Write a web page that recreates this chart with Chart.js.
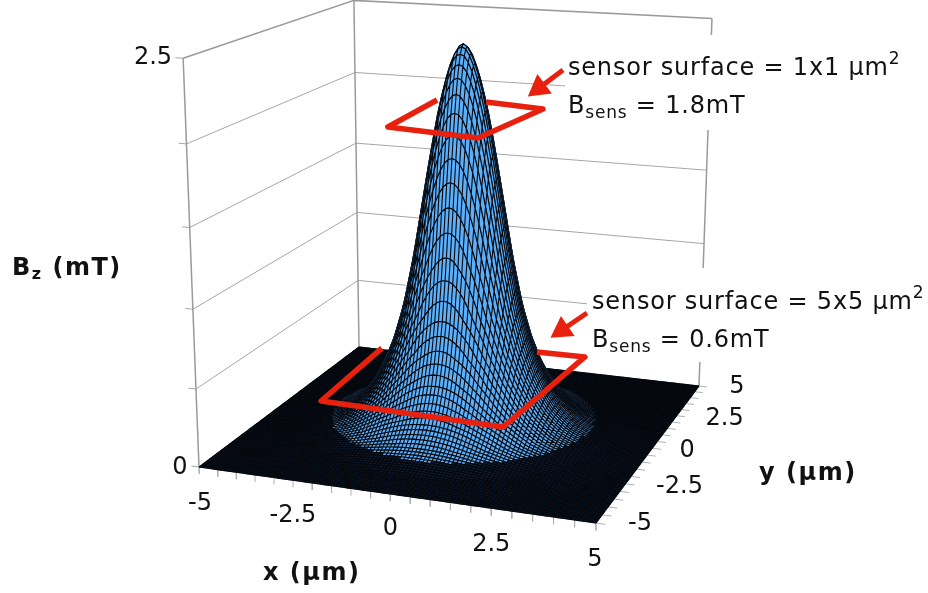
<!DOCTYPE html>
<html>
<head>
<meta charset="utf-8">
<style>
  html, body { margin: 0; padding: 0; background: #fff; }
  canvas { display: block; }
</style>
<script src="https://cdn.jsdelivr.net/npm/chart.js@4"></script>
</head>
<body>
<canvas id="chart" width="928" height="593"></canvas>
<script>
// values
const xTicks = ['-5', '-2.5', '0', '2.5', '5'];
const yTicks = ['5', '2.5', '0', '-2.5', '-5'];
const zTicks = ['2.5', '0'];
const gridSteps = 100;
const zGrid = [0, 0.5, 1, 1.5, 2, 2.5];
const tickValues = [-5, -4.5, -4, -3.5, -3, -2.5, -2, -1.5, -1, -0.5, 0, 0.5, 1, 1.5, 2, 2.5, 3, 3.5, 4, 4.5, 5];
// Bz against distance from the centre. The mesh heights are linearly
// interpolated between these read values because the surface has far more
// nodes than can be read one at a time.
const radii = [0, 0.125, 0.25, 0.375, 0.5, 0.625, 0.75, 0.875, 1, 1.25, 1.5, 1.75, 2, 2.25, 2.5, 2.75, 3, 3.25, 3.5, 4, 4.5, 5, 8];
const bzProfile = [2.46, 2.44, 2.38, 2.29, 2.17, 2.03, 1.86, 1.68, 1.49, 1.11, 0.80, 0.58, 0.42, 0.30, 0.21, 0.15, 0.10, 0.07, 0.05, 0.02, 0.01, 0, 0];
const floorBand = 0.06;
const smallSensor = [[-2.17, 3.94, 1.9], [-2.07, 0.17, 1.9], [0.5, -0.32, 1.9], [0.88, 3.71, 1.9], [-0.84, 4.12, 1.9]];
const largeSensor = [[-2.94, 1.73, 0.3], [-2.76, -2.7, 0.3], [2.07, -2.91, 0.3], [2.39, 2.86, 0.3], [1.07, 2.83, 0.3]];

// camera: floor corners and wall tops as they sit in the picture
const floorAnchors = [[-5, -5, 199, 467], [5, -5, 596, 523], [5, 5, 699, 386], [-5, 5, 359, 347]];
const topAnchors = [[-5, -5, 183, 57], [-5, 5, 354, 0], [5, 5, 712, 20]];
const topZ = 2.5;

function solveLinear(rows, rhs) {
  const n = rows[0].length;
  const m = [];
  for (let i = 0; i < n; i++) {
    m.push([]);
    for (let j = 0; j < n; j++) {
      m[i].push(rows.reduce((s, r) => s + r[i] * r[j], 0));
    }
    m[i].push(rows.reduce((s, r, k) => s + r[i] * rhs[k], 0));
  }
  for (let c = 0; c < n; c++) {
    let best = c;
    for (let r = c + 1; r < n; r++) {
      if (Math.abs(m[r][c]) > Math.abs(m[best][c])) best = r;
    }
    [m[c], m[best]] = [m[best], m[c]];
    for (let r = 0; r < n; r++) {
      if (r === c) continue;
      const f = m[r][c] / m[c][c];
      for (let k = c; k <= n; k++) m[r][k] -= f * m[c][k];
    }
  }
  return m.map((row, i) => row[n] / row[i]);
}

function solveCamera() {
  const rows = [];
  const rhs = [];
  floorAnchors.forEach(([x, y, u, v]) => {
    rows.push([x, y, 1, 0, 0, 0, -u * x, -u * y]);
    rhs.push(u);
    rows.push([0, 0, 0, x, y, 1, -v * x, -v * y]);
    rhs.push(v);
  });
  const [a, b, d, e, f, h, g, k] = solveLinear(rows, rhs);
  const zRows = [];
  const zRhs = [];
  topAnchors.forEach(([x, y, u, v]) => {
    const w = g * x + k * y + 1;
    zRows.push([topZ, 0, -u * topZ]);
    zRhs.push(u * w - a * x - b * y - d);
    zRows.push([0, topZ, -v * topZ]);
    zRhs.push(v * w - e * x - f * y - h);
  });
  const [c, j, m] = solveLinear(zRows, zRhs);
  return [a, b, c, d, e, f, j, h, g, k, m];
}

const cam = solveCamera();

function project(x, y, z) {
  const w = cam[8] * x + cam[9] * y + cam[10] * z + 1;
  return {
    x: (cam[0] * x + cam[1] * y + cam[2] * z + cam[3]) / w,
    y: (cam[4] * x + cam[5] * y + cam[6] * z + cam[7]) / w
  };
}

function bzAt(x, y) {
  const r = Math.hypot(x, y);
  let k = 0;
  while (k < radii.length - 2 && radii[k + 1] < r) k++;
  const t = (r - radii[k]) / (radii[k + 1] - radii[k]);
  return bzProfile[k] + t * (bzProfile[k + 1] - bzProfile[k]);
}

const gap = { x: null, y: null };
const nodes = [];
for (let i = 0; i <= gridSteps; i++) {
  nodes.push(-5 + 10 * i / gridSteps);
}

function lineSet(points, color, width) {
  return { data: points, borderColor: color, borderWidth: width, pointRadius: 0, fill: false, tension: 0 };
}

function wallLines() {
  const thin = [];
  const thick = [];
  zGrid.forEach((z) => {
    const target = z === 2.5 ? thick : thin;
    target.push(project(-5, -5, z), project(-5, 5, z), project(5, 5, z), gap);
    thin.push(project(-5.2, -5, z), project(-5, -5, z), gap);
  });
  [[-5, -5], [-5, 5], [5, 5]].forEach(([x, y]) => {
    thick.push(project(x, y, 0), project(x, y, 2.5), gap);
  });
  return [lineSet(thin, '#a6a6a6', 1), lineSet(thick, '#999999', 1.5)];
}

function floorTicks() {
  const pts = [];
  tickValues.forEach((v) => {
    pts.push(project(v, -5, 0), project(v, -5, -0.045), gap);
    pts.push(project(5, v, 0), project(5.22, v, 0), gap);
  });
  pts.push(project(-5, -5, 0), project(5, -5, 0), project(5, 5, 0), gap);
  return lineSet(pts, '#b0b0b0', 1);
}

function stripFill(j, from, to, color) {
  const pts = [];
  for (let i = from; i <= to; i++) {
    pts.push(project(nodes[i], nodes[j + 1], bzAt(nodes[i], nodes[j + 1])));
  }
  for (let i = to; i >= from; i--) {
    pts.push(project(nodes[i], nodes[j], bzAt(nodes[i], nodes[j])));
  }
  pts.push(pts[0]);
  return { data: pts, fill: 'shape', backgroundColor: color, borderColor: color, borderWidth: 0.5, pointRadius: 0, tension: 0 };
}

function stripLines(j) {
  const pts = [];
  nodes.forEach((x) => {
    pts.push(project(x, nodes[j + 1], bzAt(x, nodes[j + 1])));
  });
  pts.push(gap);
  nodes.forEach((x) => {
    pts.push(project(x, nodes[j], bzAt(x, nodes[j])));
  });
  pts.push(gap);
  nodes.forEach((x) => {
    pts.push(project(x, nodes[j + 1], bzAt(x, nodes[j + 1])), project(x, nodes[j], bzAt(x, nodes[j])), gap);
  });
  return lineSet(pts, '#05070d', 1.1);
}

function surface() {
  const sets = [];
  // back row first, front row last, so nearer rows hide what is behind them
  for (let j = gridSteps - 1; j >= 0; j--) {
    let start = 0;
    const band = (i) => bzAt((nodes[i] + nodes[i + 1]) / 2, (nodes[j] + nodes[j + 1]) / 2) >= floorBand;
    for (let i = 1; i <= gridSteps; i++) {
      if (i === gridSteps || band(i) !== band(start)) {
        sets.push(stripFill(j, start, i, band(start) ? '#5cb0fa' : '#0f1d2e'));
        start = i;
      }
    }
    sets.push(stripLines(j));
  }
  return sets;
}

function whiteBox(x0, y0, x1, y1) {
  const pts = [{ x: x0, y: y0 }, { x: x1, y: y0 }, { x: x1, y: y1 }, { x: x0, y: y1 }, { x: x0, y: y0 }];
  return { data: pts, fill: 'shape', backgroundColor: '#fff', borderColor: '#fff', borderWidth: 0, pointRadius: 0, tension: 0 };
}

function sensorLine(corners, width) {
  const set = lineSet(corners.map(([x, y, z]) => project(x, y, z)), '#e8210f', width);
  set.borderJoinStyle = 'round';
  set.borderCapStyle = 'butt';
  return set;
}

function arrow(tail, tip, size) {
  const angle = Math.atan2(tip.y - tail.y, tip.x - tail.x) * 180 / Math.PI + 90;
  return {
    data: [tail, tip],
    borderColor: '#e8210f',
    borderWidth: 5,
    tension: 0,
    fill: false,
    pointStyle: 'triangle',
    pointRadius: [0, size],
    pointRotation: angle,
    pointBackgroundColor: '#e8210f',
    pointBorderColor: '#e8210f',
    pointBorderWidth: 0
  };
}

// painter order; Chart.js draws the first dataset on top, so this is reversed below
const datasets = [
  ...wallLines(),
  whiteBox(565, 35, 928, 130),
  whiteBox(587, 268, 928, 362),
  floorTicks(),
  ...surface(),
  sensorLine(largeSensor, 5.5),
  sensorLine(smallSensor, 5.5),
  arrow({ x: 563, y: 70 }, { x: 539, y: 88 }, 14),
  arrow({ x: 587, y: 313 }, { x: 562, y: 330 }, 14)
].reverse();

const textColor = '#111111';
const regular = '24px "DejaVu Sans"';
const small = '17px "DejaVu Sans"';
const bold = 'bold 24px "DejaVu Sans"';
const boldSmall = 'bold 16px "DejaVu Sans"';

// centre offsets of the tick labels from the axis, in pixels
const xLabelOffset = [[1, 37], [0, 36], [0, 35], [0, 37], [-1, 37]];
const yLabelOffset = [[38, 1], [48, 3], [35, 3], [54, 3], [44, 1]];
const xLabelValues = [-5, -2.5, 0, 2.5, 5];
const yLabelValues = [5, 2.5, 0, -2.5, -5];

function runs(ctx, x, y, parts, spacing) {
  let cx = x;
  ctx.textAlign = 'left';
  ctx.textBaseline = 'alphabetic';
  ctx.letterSpacing = spacing;
  parts.forEach(([text, font, dy]) => {
    ctx.font = font;
    ctx.fillText(text, cx, y + (dy || 0));
    cx += ctx.measureText(text).width;
  });
  ctx.letterSpacing = '0px';
}

const textPlugin = {
  id: 'texts',
  afterDraw(chart) {
    const ctx = chart.ctx;
    ctx.save();
    ctx.fillStyle = textColor;
    ctx.font = regular;
    ctx.textAlign = 'center';
    ctx.textBaseline = 'middle';
    xTicks.forEach((t, i) => {
      const p = project(xLabelValues[i], -5, 0);
      ctx.fillText(t, p.x + xLabelOffset[i][0], p.y + xLabelOffset[i][1]);
    });
    yTicks.forEach((t, i) => {
      const p = project(5, yLabelValues[i], 0);
      ctx.fillText(t, p.x + yLabelOffset[i][0], p.y + yLabelOffset[i][1]);
    });
    ctx.fillText(zTicks[0], 153, 58);
    ctx.fillText(zTicks[1], 180, 468);
    runs(ctx, 568, 75, [['sensor surface = 1x1 µm', regular], ['2', small, -11]], '0.8px');
    runs(ctx, 568, 113, [['B', regular], ['sens', small, 5], [' = 1.8mT', regular]], '0.8px');
    runs(ctx, 592, 309, [['sensor surface = 5x5 µm', regular], ['2', small, -11]], '0.8px');
    runs(ctx, 592, 347, [['B', regular], ['sens', small, 5], [' = 0.6mT', regular]], '0.8px');
    runs(ctx, 12, 275, [['B', bold], ['z', boldSmall, 4], [' (mT)', bold]], '1.5px');
    runs(ctx, 263, 580, [['x (µm)', bold]], '1.5px');
    runs(ctx, 759, 480, [['y (µm)', bold]], '1.5px');
    ctx.restore();
  }
};

new Chart(document.getElementById('chart'), {
  type: 'line',
  data: { datasets },
  options: {
    responsive: false,
    animation: false,
    events: [],
    layout: { padding: 0, autoPadding: false },
    plugins: { legend: { display: false }, tooltip: { enabled: false }, title: { display: false } },
    scales: {
      x: { type: 'linear', min: 0, max: 928, display: false },
      y: { type: 'linear', min: 0, max: 593, reverse: true, display: false }
    }
  },
  plugins: [textPlugin]
});
</script>
</body>
</html>
